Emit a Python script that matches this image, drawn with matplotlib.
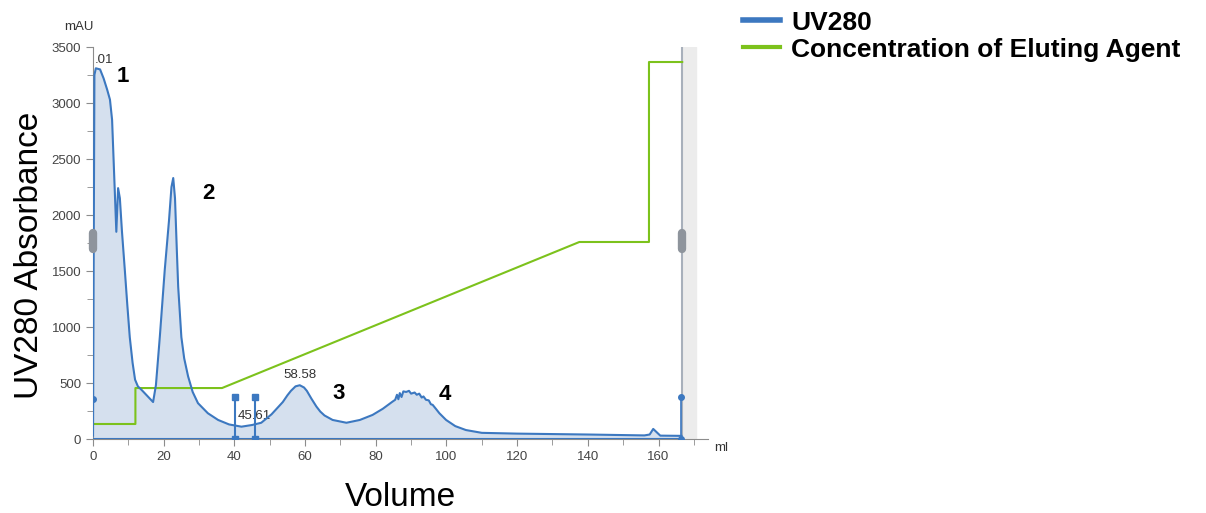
import numpy as np
import matplotlib.pyplot as plt
from matplotlib.lines import Line2D
from matplotlib.ticker import MultipleLocator

plt.rcParams['font.family'] = ['Liberation Sans', 'DejaVu Sans']

# UV280 trace (ml, mAU)
uv_ml = [0, 0.4, 0.8, 2.0, 3.0, 4.0, 4.8, 5.4, 6.0, 6.6, 7.1, 7.6, 8.2, 9.0, 9.7,
         10.4, 11.2, 11.9, 12.7, 13.7, 15.5, 17.0, 17.8, 18.9, 20.3, 21.5, 22.2,
         22.7, 23.2, 23.7, 24.1, 25.0, 25.8, 26.9, 28.2, 29.7, 32.5, 35.4, 38.5,
         42.0, 45.0, 47.6, 50.5, 53.7, 55.0, 56.0, 57.3, 58.5, 59.7, 60.5, 61.8,
         63.2, 64.3, 65.5, 67.8, 71.7, 75.5, 79.1, 82.0, 84.8, 85.5, 86.0, 86.4,
         86.8, 87.3, 87.8, 88.6, 89.4, 90.0, 91.0, 91.6, 92.3, 93.0, 93.5, 94.2,
         95.0, 95.6, 96.1, 97.0, 98.0, 99.9, 102.5, 105.5, 110, 120, 140, 156,
         157.5, 158.5, 159.5, 160.5, 166.5]
uv_mau = [30, 3250, 3310, 3300, 3220, 3120, 3030, 2850, 2350, 1850, 2240, 2150,
          1850, 1510, 1200, 910, 680, 530, 470, 440, 380, 330, 480, 910, 1510, 1950,
          2250, 2330, 2150, 1700, 1360, 910, 720, 560, 420, 320, 230, 170, 130, 110,
          125, 145, 220, 330, 390, 430, 470, 480, 460, 430, 360, 290, 245, 210, 170,
          145, 170, 215, 270, 335, 350, 395, 355, 410, 375, 425, 420, 430, 405, 415,
          395, 405, 370, 380, 350, 345, 310, 305, 270, 230, 170, 115, 80, 55, 48, 40,
          32, 40, 90, 60, 30, 28]

# eluting agent gradient
grad_ml = [0, 12.0, 12.0, 36.5, 137.6, 157.3, 157.3, 166.7]
grad_val = [134, 134, 455, 455, 1759, 1759, 3366, 3366]

# fraction marks
mark_ml = [40.3, 45.9]
mark_top = 375
end_ml = 166.5

peak_labels = ['1', '2', '3', '4']
peak_x = [8.5, 32.8, 69.5, 99.4]
peak_y = [3240, 2196, 402, 393]

blue = '#3c78c0'
green = '#7cc21c'
grey = '#8c8c8c'

fig = plt.figure(figsize=(12.06, 5.13), dpi=100)
ax = fig.add_axes([93 / 1206, 74 / 513, 615 / 1206, 392 / 513])

ax.axvspan(166.7, 170.6, color='#ececec', zorder=0)
ax.axvline(166.7, color='#a8b0bb', lw=1.5, zorder=1)

ax.fill_between(uv_ml, uv_mau, 0, color='#d5e0ee', lw=0, zorder=2)
uv_line, = ax.plot(uv_ml, uv_mau, color=blue, lw=1.5, zorder=4)
ax.plot([0, end_ml], [0, 0], color=blue, lw=1.5, zorder=4)
grad_line, = ax.plot(grad_ml, grad_val, color=green, lw=1.5, zorder=3)

for m in mark_ml:
    ax.plot([m, m], [0, mark_top], color=blue, lw=1.5, marker='s', ms=4, zorder=5)
ax.plot([end_ml, end_ml], [0, mark_top], color=blue, lw=1.2, marker='o', ms=4, zorder=5)
ax.plot([0], [357], color=blue, marker='o', ms=4, zorder=5)

# scroll handles
for hx in [0, 166.7]:
    ax.plot([hx, hx], [1700, 1840], color='#8e949c', lw=6, solid_capstyle='round',
            zorder=6, clip_on=False)

ax.text(58.5, 520, '58.58', ha='center', va='bottom', fontsize=9.5, color='#333333')
ax.text(40.8, 150, '45.61', ha='left', va='bottom', fontsize=9.5, color='#333333')
ax.text(0.4, 3330, '.01', ha='left', va='bottom', fontsize=9.5, color='#333333')

for lab, px, py in zip(peak_labels, peak_x, peak_y):
    ax.text(px, py, lab, ha='center', va='center', fontsize=16, fontweight='bold')

ax.set_xlim(0, 174)
ax.set_ylim(0, 3500)
ax.xaxis.set_major_locator(MultipleLocator(20))
ax.xaxis.set_minor_locator(MultipleLocator(10))
ax.yaxis.set_major_locator(MultipleLocator(500))
ax.yaxis.set_minor_locator(MultipleLocator(250))
ax.tick_params(which='both', direction='out', color=grey, labelsize=9.5,
               labelcolor='#444444')
ax.tick_params(which='major', length=5)
ax.tick_params(which='minor', length=4)
for s in ['top', 'right']:
    ax.spines[s].set_visible(False)
for s in ['left', 'bottom']:
    ax.spines[s].set_color(grey)

fig.text(79 / 1206, 1 - 27 / 513, 'mAU', ha='center', va='center', fontsize=9.5,
         color='#333333')
fig.text(721 / 1206, 1 - 448 / 513, 'ml', ha='center', va='center', fontsize=9.5,
         color='#333333')

fig.text(30 / 1206, 1 - 255 / 513, 'UV280 Absorbance', rotation=90, ha='center',
         va='center', fontsize=24)
fig.text(400 / 1206, 1 - 497 / 513, 'Volume', ha='center', va='center', fontsize=24)

handles = [Line2D([], [], color=blue, lw=4), Line2D([], [], color=green, lw=3)]
fig.legend(handles, ['UV280', 'Concentration of Eluting Agent'],
           loc='upper left', bbox_to_anchor=(732 / 1206, 1.0), frameon=False,
           prop={'weight': 'bold', 'size': 19}, handlelength=1.4,
           handletextpad=0.45, labelspacing=0.12, borderaxespad=0)

fig.savefig('out.png', dpi=100)
